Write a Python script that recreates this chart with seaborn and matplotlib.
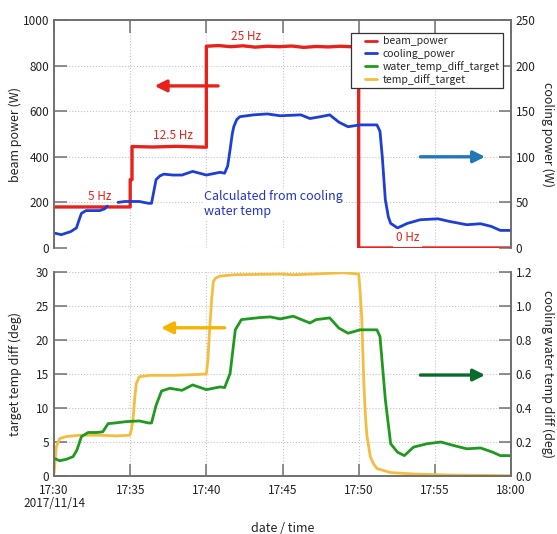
import numpy as np
import pandas as pd
import matplotlib
matplotlib.use("Agg")
import matplotlib.pyplot as plt
from matplotlib.lines import Line2D
from matplotlib.legend_handler import HandlerLine2D
import seaborn as sns

# ---- data (time in minutes after 17:30, 2017/11/14) ----
tick_minutes = [0, 5, 10, 15, 20, 25, 30]
tick_labels = ["17:30\n2017/11/14", "17:35", "17:40", "17:45", "17:50", "17:55", "18:00"]

beam_time = [0, 5.0, 5.0, 5.12, 5.12, 6.5, 8.0, 10.0, 10.0, 10.8, 11.6, 12.4, 13.2,
             14.0, 14.8, 15.6, 16.4, 17.2, 18.0, 18.8, 19.5, 20.0, 20.0, 30.0]
beam_power = [180, 180, 300, 300, 445, 443, 446, 442, 885, 888, 883, 887, 881,
              885, 883, 886, 880, 884, 882, 885, 883, 884, 0, 0]

cool_time_a = [0, 0.48, 1.1, 1.47, 1.65, 1.8, 2.1, 3.0, 3.33, 3.5]
cool_power_a = [16.4, 14.6, 18, 22, 31, 38, 41, 41, 43, 46]
cool_time_b = [4.2, 4.65, 5.6, 6.2, 6.4, 6.55, 6.7, 6.95, 7.2, 7.8, 8.4, 9.1, 10.0,
               10.9, 11.2, 11.4, 11.56, 11.7, 11.8, 12.0, 12.2, 13.1, 14.0, 14.85,
               16.2, 16.8, 17.5, 18.1, 18.7, 19.3, 20.1, 21.2, 21.4, 21.55, 21.75,
               21.95, 22.1, 22.55, 23.2, 24.05, 25.2, 26.0, 27.1, 28.0, 28.7, 29.3, 30]
cool_power_b = [50, 51, 51, 49, 49, 62, 75, 79, 81, 80, 80, 84, 80,
                83, 82, 90, 108, 125, 133, 141, 144, 146, 147, 145,
                146, 142, 144, 146, 138, 133, 135, 135, 128, 100, 53,
                34, 27, 22, 27, 31, 32, 29, 25.5, 26.6, 23.7, 19.3, 19.3]

temp_time = [0, 0.15, 0.37, 0.8, 1.7, 3.0, 4.1, 4.98, 5.1, 5.2, 5.3, 5.4, 5.6, 6.3,
             7.8, 9.6, 10.0, 10.1, 10.2, 10.35, 10.46, 10.6, 10.9, 11.8, 14.85, 15.7,
             17.0, 19.0, 20.0, 20.1, 20.2, 20.34, 20.45, 20.55, 20.77, 21.0, 21.2,
             22.1, 23.6, 25.8, 30]
temp_diff = [0.4, 4.3, 5.5, 5.8, 6.0, 6.0, 5.9, 6.0, 7.0, 8.7, 11.5, 13.6, 14.6, 14.8,
             14.8, 14.95, 15.0, 17.0, 21.0, 26.0, 28.6, 29.1, 29.4, 29.6, 29.7, 29.6,
             29.7, 29.9, 29.7, 27.0, 23.4, 13.6, 8.5, 5.8, 2.8, 1.7, 1.1,
             0.5, 0.3, 0.15, 0.05]

water_time = [0, 0.37, 0.8, 1.25, 1.5, 1.8, 2.24, 2.8, 3.2, 3.55, 4.0, 4.75, 5.6, 6.2,
              6.4, 6.7, 7.06, 7.6, 8.4, 9.1, 10.0, 10.9, 11.2, 11.56, 11.9, 12.3, 13.5,
              14.2, 14.85, 15.7, 16.8, 17.2, 18.1, 18.7, 19.3, 20.1, 21.2, 21.4, 21.75,
              22.1, 22.55, 23.0, 23.6, 24.5, 25.4, 26.2, 27.1, 28.0, 28.8, 29.3, 30]
water_diff = [0.104, 0.09, 0.098, 0.114, 0.152, 0.232, 0.256, 0.256, 0.26, 0.308, 0.312,
              0.32, 0.324, 0.312, 0.312, 0.416, 0.5, 0.516, 0.504, 0.536, 0.508, 0.524,
              0.52, 0.604, 0.86, 0.92, 0.932, 0.936, 0.924, 0.94, 0.90, 0.92, 0.93, 0.87,
              0.84, 0.86, 0.86, 0.82, 0.45, 0.19, 0.14, 0.12, 0.17, 0.19, 0.2, 0.18,
              0.16, 0.165, 0.14, 0.12, 0.12]

series_names = ["beam_power", "cooling_power", "water_temp_diff_target", "temp_diff_target"]

# ---- colours ----
RED = "#e8221b"
BLUE = "#1d3fd6"
GREEN = "#1e9a1e"
YELLOW = "#f4bd3f"
BLUE_ARROW = "#1f78b8"
YELLOW_ARROW = "#f5b400"
GREEN_ARROW = "#0b6b2b"

sns.set_style("white")
plt.rcParams["font.family"] = ["Noto Sans CJK JP", "DejaVu Sans"]

beam_df = pd.DataFrame({"t": beam_time, "v": beam_power})
cool_df = pd.DataFrame({
    "t": cool_time_a + cool_time_b,
    "v": cool_power_a + cool_power_b,
    "seg": [0] * len(cool_time_a) + [1] * len(cool_time_b),
})
temp_df = pd.DataFrame({"t": temp_time, "v": temp_diff})
water_df = pd.DataFrame({"t": water_time, "v": water_diff})

fig = plt.figure(figsize=(5.57, 5.34), dpi=100)
ax1 = fig.add_axes([0.0970, 0.5356, 0.8204, 0.4269])
ax2 = fig.add_axes([0.0970, 0.1086, 0.8204, 0.3820])
ax1r = ax1.twinx()
ax2r = ax2.twinx()

LW = 2.0
sns.lineplot(data=beam_df, x="t", y="v", estimator=None, sort=False,
             color=RED, lw=2.4, ax=ax1, legend=False)
sns.lineplot(data=cool_df, x="t", y="v", units="seg", estimator=None, sort=False,
             color=BLUE, lw=LW, ax=ax1r, legend=False)
sns.lineplot(data=temp_df, x="t", y="v", estimator=None, sort=False,
             color=YELLOW, lw=LW, ax=ax2, legend=False)
sns.lineplot(data=water_df, x="t", y="v", estimator=None, sort=False,
             color=GREEN, lw=LW, ax=ax2r, legend=False)

SPINE = "#707070"
TICKLAB = "#222222"
for ax in (ax1, ax2, ax1r, ax2r):
    ax.set_xlim(0, 30)
    for s in ax.spines.values():
        s.set_color(SPINE)
        s.set_linewidth(1.2)
    ax.tick_params(axis="both", direction="in", length=9, width=1.1,
                   color=SPINE, labelcolor=TICKLAB, labelsize=8.5)

ax1.set_ylim(0, 1000)
ax1r.set_ylim(0, 250)
ax2.set_ylim(0, 30)
ax2r.set_ylim(0, 1.2)

ax1.set_yticks(np.arange(0, 1001, 200))
ax1r.set_yticks(np.arange(0, 251, 50))
ax2.set_yticks(np.arange(0, 31, 5))
ax2r.set_yticks(np.arange(0, 1.21, 0.2))
ax2r.set_yticklabels([f"{v:.1f}" for v in np.arange(0, 1.21, 0.2)])

for ax in (ax1, ax1r):
    ax.spines["bottom"].set_visible(False)
for ax in (ax2, ax2r):
    ax.spines["top"].set_visible(False)

ax1.set_xticks(tick_minutes)
ax1.tick_params(axis="x", top=True, bottom=False, labelbottom=False, labeltop=False)
ax2.set_xticks(tick_minutes)
ax2.set_xticklabels(tick_labels)
ax2.tick_params(axis="x", top=False, bottom=True, pad=6)
for lab in ax2.get_xticklabels():
    lab.set_linespacing(0.95)

for ax in (ax1, ax2):
    ax.set_axisbelow(True)
    ax.grid(True, ls=":", color="#c4c4c4", lw=0.8)

ax1.set_xlabel("")
ax1r.set_xlabel("")
ax2r.set_xlabel("")
lab_kw = dict(fontsize=9, color=TICKLAB)
ax2.set_xlabel("date / time", va="center", **lab_kw)
ax2.xaxis.set_label_coords(0.5, -0.255)
ax1.set_ylabel("beam power (W)", va="center", **lab_kw)
ax1.yaxis.set_label_coords(-0.085, 0.5)
ax1r.set_ylabel("cooling power (W)", rotation=270, va="center", **lab_kw)
ax1r.yaxis.set_label_coords(1.081, 0.5)
ax2.set_ylabel("target temp diff (deg)", va="center", **lab_kw)
ax2.yaxis.set_label_coords(-0.085, 0.5)
ax2r.set_ylabel("cooling water temp diff (deg)", rotation=270, va="center", **lab_kw)
ax2r.yaxis.set_label_coords(1.081, 0.5)

# frequency annotations
hz_kw = dict(color=RED, fontsize=8.5, ha="center", va="center")
ax1.text(3.0, 225, "5 Hz", **hz_kw)
ax1.text(7.8, 492, "12.5 Hz", **hz_kw)
ax1.text(12.6, 927, "25 Hz", **hz_kw)
ax1r.text(23.2, 11, "0 Hz", bbox=dict(facecolor="white", edgecolor="none", pad=2), **hz_kw)
ax1r.text(9.85, 48, "Calculated from cooling\nwater temp", color="#2233c8", fontsize=9,
          ha="left", va="center", linespacing=1.2,
          bbox=dict(facecolor="white", edgecolor="none", pad=1))

# axis-indicator arrows
def arrow(ax, x0, x1, y, color):
    ax.annotate("", xy=(x1, y), xytext=(x0, y),
                arrowprops=dict(arrowstyle="-|>,head_length=0.7,head_width=0.35",
                                color=color, lw=2.4, mutation_scale=10,
                                shrinkA=0, shrinkB=0))

arrow(ax1, 10.77, 6.6, 711, RED)
arrow(ax1r, 24.05, 28.3, 100, BLUE_ARROW)
arrow(ax2, 11.2, 7.02, 21.8, YELLOW_ARROW)
arrow(ax2r, 24.05, 28.3, 0.594, GREEN_ARROW)


class ShortLineHandler(HandlerLine2D):
    """Legend line drawn over the right half of the handle box only."""

    def get_xdata(self, legend, xdescent, ydescent, width, height, fontsize):
        xs = np.array([-xdescent + 0.48 * width, -xdescent + width])
        return xs, xs


handles = [Line2D([], [], color=c, lw=2) for c in (RED, BLUE, GREEN, YELLOW)]
leg = ax1r.legend(handles, series_names, loc="upper right", bbox_to_anchor=(0.982, 0.942),
                  prop={"size": 7.5}, frameon=True, fancybox=False, framealpha=1,
                  edgecolor="#333333", borderpad=0.3, labelspacing=0.22,
                  handlelength=2.2, handletextpad=0.5, borderaxespad=0,
                  handler_map={Line2D: ShortLineHandler()})
leg.get_frame().set_linewidth(0.9)
leg.set_zorder(10)

fig.savefig("out.png", dpi=100)
